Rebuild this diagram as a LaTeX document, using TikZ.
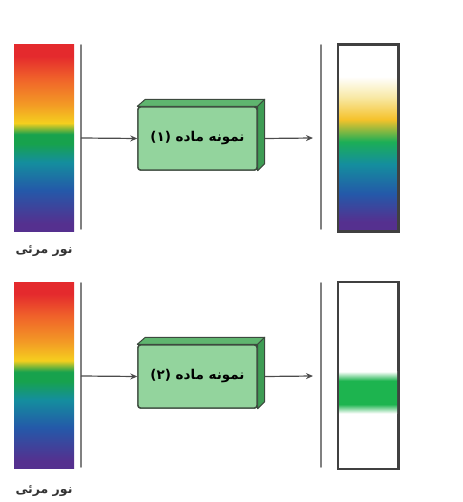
\documentclass[tikz,border=0pt]{standalone}
\usepackage{fontspec}
\newfontfamily\arabicfont[Script=Arabic]{DejaVu Sans}
\TeXXeTstate=1
\usetikzlibrary{arrows.meta}
\definecolor{sred}{HTML}{E42A2D}
\definecolor{sorange}{HTML}{F0622A}
\definecolor{sorangeb}{HTML}{F39A25}
\definecolor{syellow}{HTML}{F5CF1E}
\definecolor{sgreen}{HTML}{17A24D}
\definecolor{steal}{HTML}{148E9E}
\definecolor{sblue}{HTML}{2459A9}
\definecolor{spurple}{HTML}{55308F}
\definecolor{pyellow}{HTML}{F8E9A6}
\definecolor{ryellow}{HTML}{F5C22B}
\definecolor{rgreen}{HTML}{1CAE56}
\definecolor{bandgreen}{HTML}{1DB44F}
\definecolor{boxfront}{HTML}{93D49D}
\definecolor{boxtop}{HTML}{5FB56F}
\definecolor{boxside}{HTML}{3E9C54}
\definecolor{boxline}{HTML}{3C4A3E}
\pgfdeclareverticalshading{visible}{100bp}{color(0bp)=(spurple); color(27bp)=(spurple); color(36bp)=(sblue); color(43.5bp)=(steal); color(48.5bp)=(sgreen); color(51bp)=(sgreen); color(54bp)=(syellow); color(59bp)=(sorangeb); color(66bp)=(sorange); color(72bp)=(sred); color(100bp)=(sred)}
\pgfdeclareverticalshading{passed}{100bp}{color(0bp)=(spurple); color(27.5bp)=(spurple); color(35bp)=(sblue); color(43bp)=(steal); color(49bp)=(rgreen); color(55bp)=(ryellow); color(61bp)=(pyellow); color(66.5bp)=(white); color(100bp)=(white)}
\pgfdeclareverticalshading{band}{100bp}{color(0bp)=(white); color(25bp)=(white); color(36bp)=(bandgreen); color(64bp)=(bandgreen); color(75bp)=(white); color(100bp)=(white)}
\tikzset{
  spec/.style={minimum width=60pt, minimum height=186pt, inner sep=0pt, draw=none},
  screen/.style={draw=black!50, line width=1.6pt, line cap=round},
  outbox/.style={minimum width=60pt, minimum height=186pt, inner sep=0pt, draw=black!75, line width=1.5pt},
  sample/.style={minimum width=119pt, minimum height=63pt, inner sep=0pt, draw=boxline, line width=1.4pt, fill=boxfront, rounded corners=2.5pt, font=\arabicfont\bfseries\fontsize{13.5}{15}\selectfont},
  ray/.style={draw=black!70, line width=1.2pt, -{Stealth[length=7pt,width=6pt]}},
  lbl/.style={font=\arabicfont\bfseries\fontsize{12.5}{14}\selectfont, text=black!80}
}
\begin{document}
\begin{tikzpicture}[x=1pt,y=-1pt]
\useasboundingbox (0,0) rectangle (462,502);
% ---------- row 1 ----------
\node[spec, shading=visible] (s1) at (44,138) {};
\draw[screen] (81,45) coordinate (l1t) -- (81,229) coordinate (l1b);
\node[lbl] (t1) at (44,251) {\beginR نور مرئی\endR};
\node[sample] (b1) at (197.5,138.5) {};
\fill[boxtop, draw=boxline, line width=1pt, line join=round] (b1.north west) -- ++(8,-7) -- ([shift={(7,-7)}]b1.north east) -- (b1.north east) -- cycle;
\fill[boxside, draw=boxline, line width=1pt, line join=round] (b1.north east) -- ++(7,-7) -- ([shift={(7,-7)}]b1.south east) -- (b1.south east) -- cycle;
\node[sample] at (b1) {\beginR نمونه ماده (۱)\endR};
\coordinate (a1s) at (81,138);
\draw[ray] (a1s) -- (b1.west);
\coordinate (b1r) at ([xshift=7pt]b1.east);
\coordinate (r1e) at (313,138);
\draw[screen] (321,45) coordinate (m1t) -- (321,229) coordinate (m1b);
\draw[ray] (b1r) -- (r1e);
\node[outbox, shading=passed] (o1) at (368,138) {};
\draw[draw=black!75, line width=1.5pt] (o1.north west) rectangle (o1.south east);
% ---------- row 2 ----------
\node[spec, shading=visible] (s2) at (44,375.5) {};
\draw[screen] (81,283) coordinate (l2t) -- (81,467) coordinate (l2b);
\node[lbl] (t2) at (44,491) {\beginR نور مرئی\endR};
\node[sample] (b2) at (197.5,376.5) {};
\fill[boxtop, draw=boxline, line width=1pt, line join=round] (b2.north west) -- ++(8,-7) -- ([shift={(7,-7)}]b2.north east) -- (b2.north east) -- cycle;
\fill[boxside, draw=boxline, line width=1pt, line join=round] (b2.north east) -- ++(7,-7) -- ([shift={(7,-7)}]b2.south east) -- (b2.south east) -- cycle;
\node[sample] at (b2) {\beginR نمونه ماده (۲)\endR};
\coordinate (a2s) at (81,376);
\draw[ray] (a2s) -- (b2.west);
\coordinate (b2r) at ([xshift=7pt]b2.east);
\coordinate (r2e) at (313,376);
\draw[screen] (321,283) coordinate (m2t) -- (321,467) coordinate (m2b);
\draw[ray] (b2r) -- (r2e);
\node[outbox, fill=white] (o2) at (368,375.5) {};
\node[minimum width=58pt, minimum height=42pt, inner sep=0pt, shading=band] (g2) at (368,392.5) {};
\draw[draw=black!75, line width=1.5pt] (o2.north west) rectangle (o2.south east);
\end{tikzpicture}
\end{document}
